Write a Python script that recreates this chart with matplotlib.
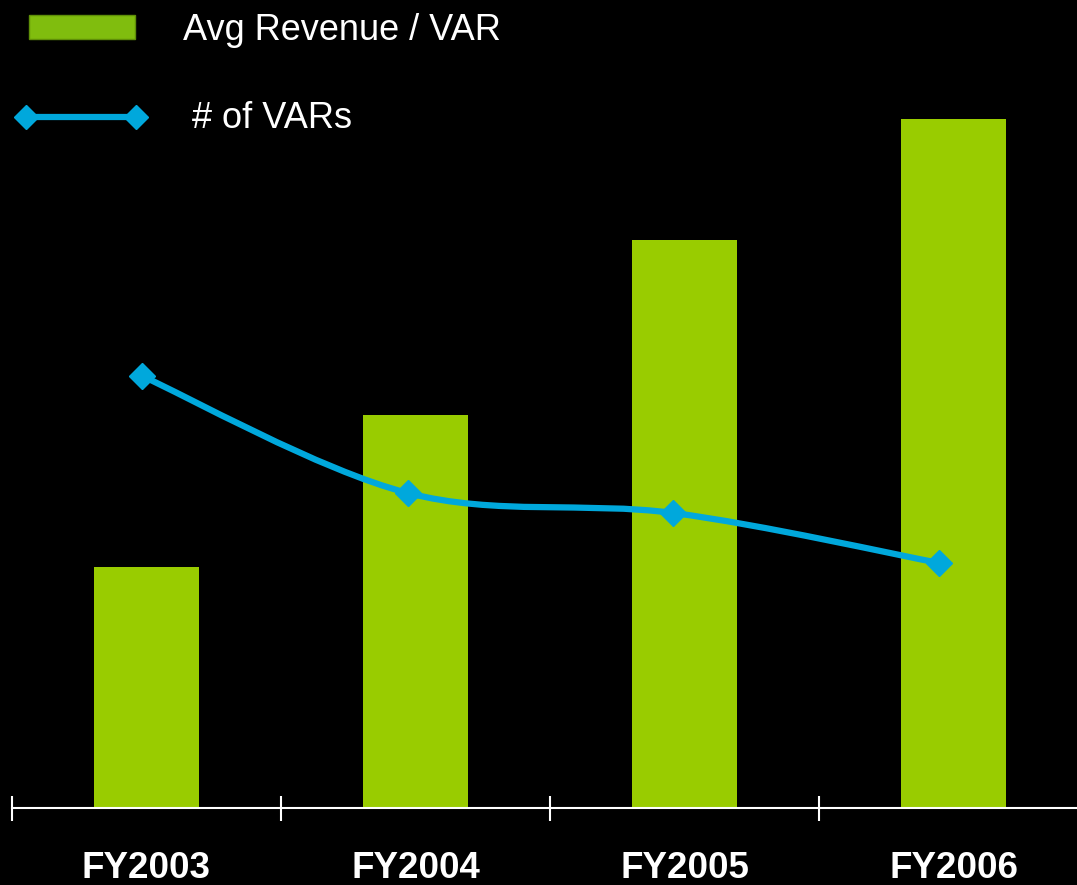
import numpy as np
import matplotlib.pyplot as plt
from matplotlib.path import Path
from matplotlib.patches import PathPatch, Rectangle
from matplotlib.lines import Line2D

# Data (arbitrary units)
years = ["FY2003", "FY2004", "FY2005", "FY2006"]
avg_revenue = [24.1, 39.3, 56.8, 68.9]
num_vars = [43.2, 31.5, 29.5, 24.5]

bar_color = "#99cc00"
line_color = "#00a8dc"

plt.rcParams['font.family'] = ['Liberation Sans', 'DejaVu Sans']


def smooth_path(xs, ys):
    # Catmull-Rom style smoothing drawn as cubic bezier segments
    pts = np.column_stack([xs, ys])
    verts = [pts[0]]
    codes = [Path.MOVETO]
    n = len(pts)
    for i in range(n - 1):
        p0 = pts[i - 1] if i > 0 else pts[i]
        p1, p2 = pts[i], pts[i + 1]
        p3 = pts[i + 2] if i + 2 < n else pts[i + 1]
        c1 = p1 + (p2 - p0) / 6.0
        c2 = p2 - (p3 - p1) / 6.0
        verts += [c1, c2, p2]
        codes += [Path.CURVE4] * 3
    return Path(verts, codes)


W, H = 1077, 885
fig = plt.figure(figsize=(W / 100, H / 100), dpi=100, facecolor="black")
ax = fig.add_axes([12 / W, 77 / H, 1076 / W, 808 / H], facecolor="black")

x = np.arange(len(years))
ax.bar(x, avg_revenue, width=0.39, color=bar_color, zorder=2)

# line sits slightly left of the bar centres in the original
x_line = x * 0.988 - 0.017
ax.add_patch(PathPatch(smooth_path(x_line, num_vars), facecolor="none",
                       edgecolor=line_color, lw=4.5, zorder=3, capstyle="round"))
ax.plot(x_line, num_vars, ls="none", marker="D", ms=13, color=line_color, zorder=4)

ax.set_xlim(-0.5, 3.5)
ax.set_ylim(0, 80.8)

for s in ["top", "right", "left"]:
    ax.spines[s].set_visible(False)
ax.spines["bottom"].set_color("white")
ax.spines["bottom"].set_linewidth(1.5)
ax.set_yticks([])

ax.set_xticks(x)
ax.set_xticklabels(years, fontsize=26.5, fontweight="bold", color="white")
ax.tick_params(axis="x", which="major", length=0, pad=31)
ax.set_xticks([-0.5, 0.5, 1.5, 2.5], minor=True)
ax.tick_params(axis="x", which="minor", direction="inout", length=18,
               width=1.5, color="white")

# ----------------- Legend (manual) -----------------
fig.patches.append(Rectangle((29 / W, 1 - 39 / H), 106 / W, 24 / H,
                             transform=fig.transFigure, facecolor="#80bd0e",
                             edgecolor="#5f8f08", lw=1))
fig.text(183 / W, 1 - 40 / H, "Avg Revenue / VAR", color="white",
         fontsize=26, va="baseline", ha="left")

fig.lines.append(Line2D([26 / W, 136 / W], [1 - 117 / H, 1 - 117 / H],
                        transform=fig.transFigure, color=line_color, lw=4.5,
                        marker="D", ms=12))
fig.text(192 / W, 1 - 128 / H, "# of VARs", color="white",
         fontsize=26, va="baseline", ha="left")

fig.savefig("out.png", dpi=100, facecolor="black")
